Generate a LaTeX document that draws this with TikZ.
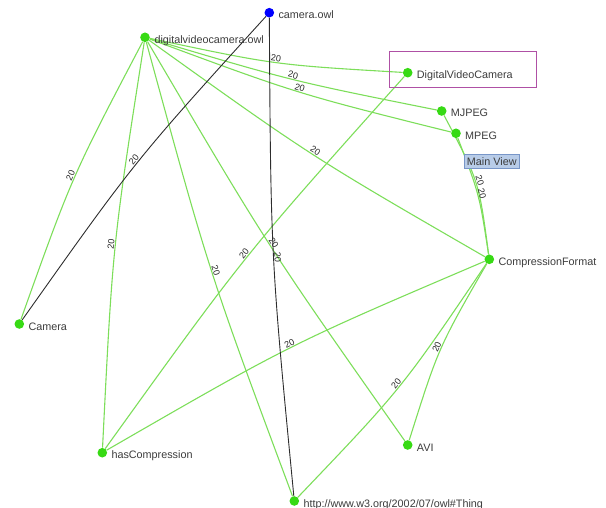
\documentclass[tikz,border=0pt]{standalone}
\usepackage{fontspec}
\setmainfont{Liberation Sans}
\usetikzlibrary{calc,backgrounds}

\definecolor{vgreen}{RGB}{55,218,20}
\definecolor{egreen}{RGB}{125,222,90}
\definecolor{eblack}{RGB}{45,45,45}
\definecolor{txt}{RGB}{60,60,60}
\definecolor{pickbox}{RGB}{175,80,165}
\definecolor{viewfill}{RGB}{184,204,232}
\definecolor{viewdraw}{RGB}{120,150,200}

\tikzset{
  vertex/.style={circle, fill=vgreen, draw=none, inner sep=0pt, minimum size=9.6pt},
  rootvertex/.style={vertex, fill=blue},
  vname/.style={anchor=base west, inner sep=0pt, text=txt, font=\fontsize{10.8}{12}\selectfont},
  gedge/.style={draw=egreen, line width=1.1pt},
  kedge/.style={draw=eblack, line width=0.9pt},
  elab/.style={midway, sloped, anchor=south, inner sep=0.6pt, text=black!85,
    font=\fontsize{9}{10}\selectfont},
}

% curved connector: one control point pushed sideways from the chord midpoint
\newcommand{\linkab}[4]{%
  \draw[#1] (#2) .. controls ($(#2)!0.5!(#3)!#4!-90:(#3)$) .. (#3) node[elab] {20};}

\begin{document}
\begin{tikzpicture}[x=1pt, y=-1pt]
\useasboundingbox (0,0) rectangle (606,508);

% vertices
\node[rootvertex] (camowl) at (269.3,12.7) {};
\node[vertex] (dvo)  at (145.0,37.3) {};
\node[vertex] (dvc)  at (407.7,72.7) {};
\node[vertex] (mjpeg) at (441.7,111.0) {};
\node[vertex] (mpeg) at (456.0,133.3) {};
\node[vertex] (cf)   at (489.3,259.3) {};
\node[vertex] (cam)  at (19.3,324.0) {};
\node[vertex] (hasc) at (102.3,452.7) {};
\node[vertex] (avi)  at (407.7,445.0) {};
\node[vertex] (thing) at (294.3,501.0) {};

% vertex names
\node[vname] (camowl-t) at (278.3,18.7) {camera.owl};
\node[vname] (dvo-t)  at (154.3,43.3) {digitalvideocamera.owl};
\node[vname] (dvc-t)  at (416.7,78.7) {DigitalVideoCamera};
\node[vname] (mjpeg-t) at (450.7,117.0) {MJPEG};
\node[vname] (mpeg-t) at (465.0,139.3) {MPEG};
\node[vname] (cf-t)   at (498.3,265.3) {CompressionFormat};
\node[vname] (cam-t)  at (28.3,330.3) {Camera};
\node[vname] (hasc-t) at (111.3,458.7) {hasCompression};
\node[vname] (avi-t)  at (416.7,451.0) {AVI};
\node[vname] (thing-t) at (303.3,507.0) {http://www.w3.org/2002/07/owl\#Thing};

% connectors, kept under the vertices
\begin{scope}[on background layer]
  \linkab{gedge}{dvo}{cam}{11pt}
  \linkab{gedge}{dvo}{hasc}{11pt}
  \linkab{gedge}{dvo}{thing}{11pt}
  \linkab{gedge}{dvo}{avi}{10pt}
  \linkab{gedge}{dvo}{cf}{10pt}
  \linkab{gedge}{dvo}{dvc}{10pt}
  \linkab{gedge}{dvo}{mjpeg}{7pt}
  \linkab{gedge}{dvo}{mpeg}{9pt}
  \linkab{gedge}{dvc}{hasc}{13pt}
  \linkab{gedge}{cf}{hasc}{13pt}
  \linkab{gedge}{cf}{avi}{11pt}
  \linkab{gedge}{thing}{cf}{13pt}
  \linkab{gedge}{cf}{mjpeg}{14pt}
  \linkab{gedge}{cf}{mpeg}{7pt}
  \linkab{kedge}{camowl}{cam}{12pt}
  \linkab{kedge}{camowl}{thing}{11pt}
\end{scope}

% picked-vertex frame and view tag
\node[draw=pickbox, line width=0.9pt, minimum width=147.3pt, minimum height=36.3pt,
  inner sep=0pt] (pick) at (462.7,69.2) {};
\node[draw=viewdraw, fill=viewfill, line width=0.6pt, minimum width=55pt,
  minimum height=14.7pt, inner sep=0pt, text=txt, font=\fontsize{10.8}{12}\selectfont]
  (mainview) at (491.8,161.3) {Main View};
\end{tikzpicture}
\end{document}
